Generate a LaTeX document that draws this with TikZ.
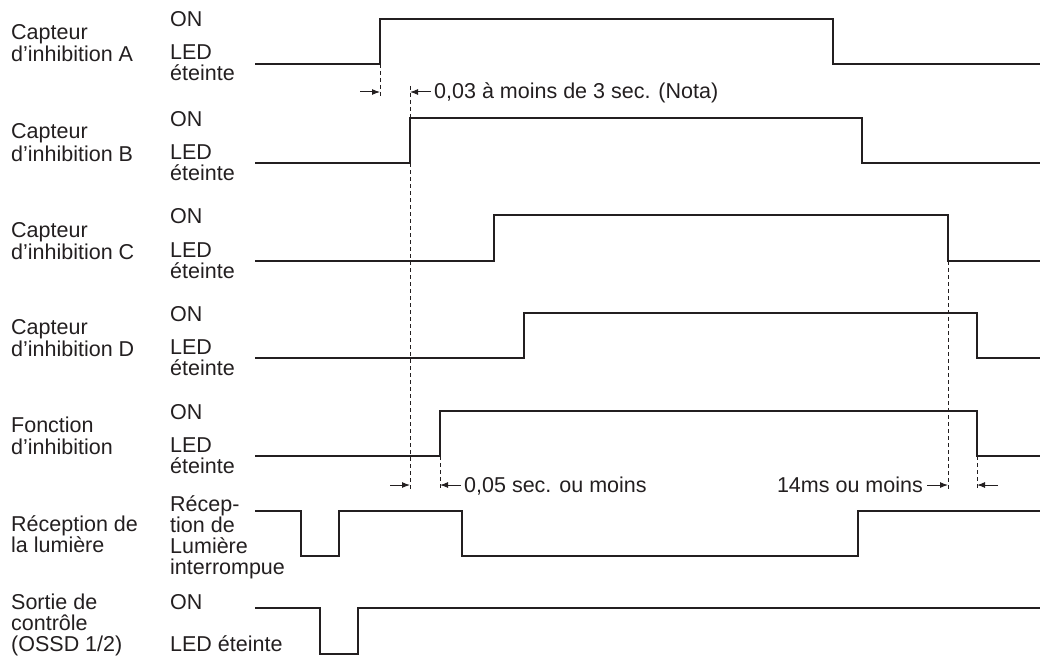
\documentclass[tikz,border=0pt]{standalone}
\usepackage{fontspec}
\setmainfont{Liberation Sans}
\usetikzlibrary{arrows.meta}
\definecolor{ink}{HTML}{231F20}
\begin{document}
\begin{tikzpicture}[x=1pt,y=-1pt,
  sig/.style={draw=ink,line width=1.4pt,line join=miter},
  guide/.style={draw=ink,line width=0.9pt,dash pattern=on 4pt off 3pt},
  dim/.style={draw=ink,line width=1pt,-{Latex[length=8pt,width=6pt]}},
  lbl/.style={anchor=base west,inner sep=0pt,text=ink,font=\fontsize{21.5}{23}\selectfont},
]
\useasboundingbox (0,0) rectangle (1040,666);

% ---------- signals ----------
\draw[sig] (255,64) -- (380,64) -- (380,19) -- (833,19) -- (833,64) -- (1040,64);
\draw[sig] (255,163) -- (410,163) -- (410,118) -- (862,118) -- (862,163) -- (1040,163);
\draw[sig] (255,261) -- (494,261) -- (494,215) -- (948,215) -- (948,261) -- (1040,261);
\draw[sig] (255,358) -- (524,358) -- (524,313) -- (977,313) -- (977,358) -- (1040,358);
\draw[sig] (255,456) -- (440,456) -- (440,411) -- (977,411) -- (977,456) -- (1040,456);
\draw[sig] (255,511) -- (301,511) -- (301,556) -- (339,556) -- (339,511) -- (462,511)
  -- (462,556) -- (858,556) -- (858,511) -- (1040,511);
\draw[sig] (255,608) -- (320,608) -- (320,654) -- (358,654) -- (358,608) -- (1040,608);

% ---------- guide lines ----------
\coordinate (gA1) at (380,64);  \coordinate (gA2) at (380,96);
\coordinate (gB1) at (410,86);  \coordinate (gB2) at (410,490);
\coordinate (gF1) at (440,456); \coordinate (gF2) at (440,490);
\coordinate (gC1) at (948,261); \coordinate (gC2) at (948,490);
\coordinate (gD1) at (977,456); \coordinate (gD2) at (977,490);
\draw[guide] (gA1) -- (gA2);
\draw[guide] (gB1) -- (gB2);
\draw[guide] (gF1) -- (gF2);
\draw[guide] (gC1) -- (gC2);
\draw[guide] (gD1) -- (gD2);

% ---------- dimension arrows ----------
\coordinate (a1s) at (360,92); \coordinate (a1e) at (380,92);
\coordinate (a2s) at (431,92); \coordinate (a2e) at (410,92);
\coordinate (b1s) at (390,485); \coordinate (b1e) at (410,485);
\coordinate (b2s) at (461,485); \coordinate (b2e) at (440,485);
\coordinate (c1s) at (927,485); \coordinate (c1e) at (948,485);
\coordinate (c2s) at (998,485); \coordinate (c2e) at (977,485);
\draw[dim] (a1s) -- (a1e);
\draw[dim] (a2s) -- (a2e);
\draw[dim] (b1s) -- (b1e);
\draw[dim] (b2s) -- (b2e);
\draw[dim] (c1s) -- (c1e);
\draw[dim] (c2s) -- (c2e);
\node[lbl] (t1) at (434,99) {0,03 à moins de 3 sec. (Nota)};
\node[lbl] (t2) at (464,492) {0,05 sec. ou moins};
\node[lbl,anchor=base east] (t3) at (923,492) {14ms ou moins};

% ---------- left labels ----------
\node[lbl] (nA1) at (11,40) {Capteur};
\node[lbl] (nA2) at (11,62) {d’inhibition A};
\node[lbl] (nB1) at (11,139) {Capteur};
\node[lbl] (nB2) at (11,161) {d’inhibition B};
\node[lbl] (nC1) at (11,237) {Capteur};
\node[lbl] (nC2) at (11,259) {d’inhibition C};
\node[lbl] (nD1) at (11,334) {Capteur};
\node[lbl] (nD2) at (11,356) {d’inhibition D};
\node[lbl] (nF1) at (11,432) {Fonction};
\node[lbl] (nF2) at (11,454) {d’inhibition};
\node[lbl] (nR1) at (11,531) {Réception de};
\node[lbl] (nR2) at (11,552) {la lumière};
\node[lbl] (nS1) at (11,609) {Sortie de};
\node[lbl] (nS2) at (11,630) {contrôle};
\node[lbl] (nS3) at (11,651) {(OSSD 1/2)};

% ---------- state labels ----------
\node[lbl] (oA) at (170,27) {ON};
\node[lbl] (lA) at (170,60) {LED};
\node[lbl] (eA) at (170,81) {éteinte};
\node[lbl] (oB) at (170,126) {ON};
\node[lbl] (lB) at (170,159) {LED};
\node[lbl] (eB) at (170,180) {éteinte};
\node[lbl] (oC) at (170,223) {ON};
\node[lbl] (lC) at (170,257) {LED};
\node[lbl] (eC) at (170,278) {éteinte};
\node[lbl] (oD) at (170,321) {ON};
\node[lbl] (lD) at (170,354) {LED};
\node[lbl] (eD) at (170,375) {éteinte};
\node[lbl] (oF) at (170,419) {ON};
\node[lbl] (lF) at (170,452) {LED};
\node[lbl] (eF) at (170,473) {éteinte};
\node[lbl] (rR1) at (170,511) {Récep-};
\node[lbl] (rR2) at (170,532) {tion de};
\node[lbl] (rR3) at (170,553) {Lumière};
\node[lbl] (rR4) at (170,574) {interrompue};
\node[lbl] (oS) at (170,609) {ON};
\node[lbl] (lS) at (170,651) {LED éteinte};
\end{tikzpicture}
\end{document}
